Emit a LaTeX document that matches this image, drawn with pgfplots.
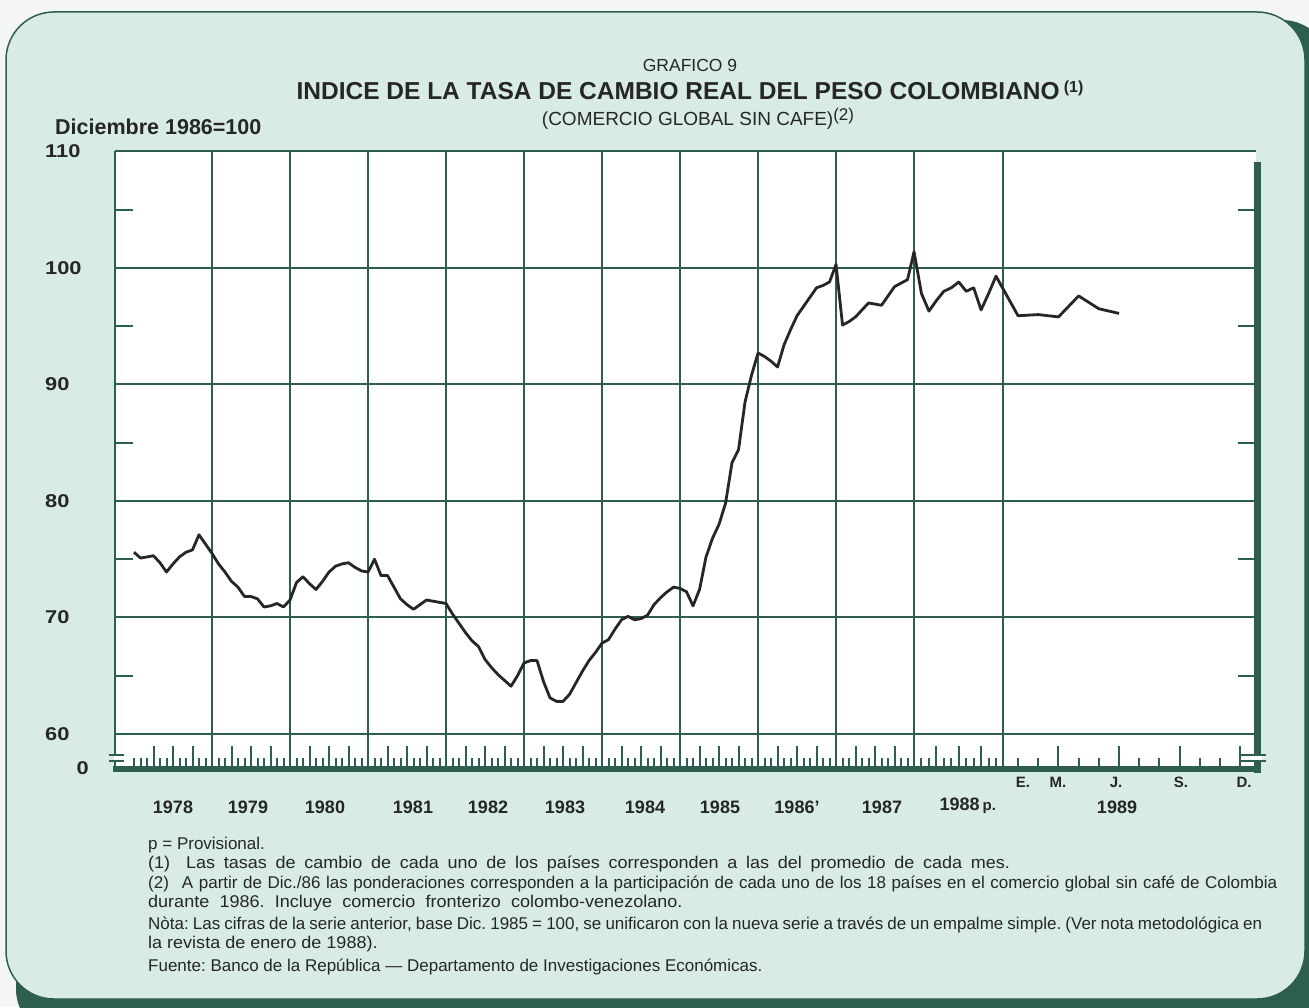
\documentclass[border=0pt]{standalone}
\usepackage{pgfplots}
\pgfplotsset{compat=1.18}
\usepackage{fontspec}
\setmainfont{Liberation Sans}
\newfontfamily\ylabfont{Liberation Sans}[FakeStretch=1.18]
\definecolor{mint}{RGB}{216,236,229}
\definecolor{dkg}{RGB}{46,94,80}
\definecolor{ink}{RGB}{38,38,38}
\definecolor{paper}{RGB}{243,246,245}
\pgfplotstableread{
m v
0 75.6
1 75.1
2 75.2
3 75.3
4 74.7
5 73.9
6 74.6
7 75.2
8 75.6
9 75.8
10 77.1
11 76.3
12 75.5
13 74.6
14 73.9
15 73.1
16 72.6
17 71.8
18 71.8
19 71.6
20 70.9
21 71.0
22 71.2
23 70.9
24 71.5
25 73.0
26 73.5
27 72.9
28 72.4
29 73.1
30 73.9
31 74.4
32 74.6
33 74.7
34 74.3
35 74.0
36 73.9
37 75.0
38 73.6
39 73.6
40 72.6
41 71.6
42 71.1
43 70.7
44 71.1
45 71.5
46 71.4
47 71.3
48 71.2
49 70.3
50 69.5
51 68.7
52 68.0
53 67.5
54 66.4
55 65.7
56 65.1
57 64.6
58 64.1
59 65.0
60 66.1
61 66.3
62 66.3
63 64.5
64 63.1
65 62.8
66 62.8
67 63.4
68 64.4
69 65.4
70 66.3
71 67.0
72 67.8
73 68.1
74 69.0
75 69.8
76 70.1
77 69.8
78 69.9
79 70.2
80 71.1
81 71.7
82 72.2
83 72.6
84 72.5
85 72.2
86 71.0
87 72.4
88 75.2
89 76.8
90 78.0
91 79.8
92 83.3
93 84.4
94 88.5
95 90.8
96 92.7
97 92.4
98 92.0
99 91.5
100 93.4
101 94.7
102 95.9
103 96.7
104 97.5
105 98.3
106 98.5
107 98.8
108 100.3
109 95.1
110 95.4
111 95.8
112 96.4
113 97.0
114 96.9
115 96.8
116 97.6
117 98.4
118 98.7
119 99.0
120 101.4
121 97.8
122 96.3
123 97.2
124 98.0
125 98.3
126 98.8
127 98.0
128 98.3
129 96.4
130 97.8
131 99.3
132 95.9
133 96.0
134 95.8
135 97.6
136 96.5
137 96.1
}\tasa
\begin{document}
\frenchspacing
\begin{tikzpicture}[x=1pt,y=1pt]
\path[use as bounding box] (0,0) rectangle (1309,1007);
\fill[paper] (0,0) rectangle (1309,1007);
\fill[dkg, rounded corners=48pt] (16,-30) rectangle (1330,987);
\filldraw[fill=mint, draw=dkg, line width=1.5pt, rounded corners=48pt] (6,8) rectangle (1305,995);
% titles
\node[ink, font=\fontsize{17.5}{20}\selectfont] at (690,942) {GRAFICO 9};
\node[ink, font=\bfseries\fontsize{24.5}{28}\selectfont] at (690,917) {INDICE DE LA TASA DE CAMBIO REAL DEL PESO COLOMBIANO\,\raisebox{0.55ex}{\fontsize{16}{18}\selectfont (1)}};
\node[ink, font=\fontsize{19}{22}\selectfont] at (698,888) {(COMERCIO GLOBAL SIN CAFE)\raisebox{0.55ex}{\fontsize{17}{19}\selectfont (2)}};
\node[ink, font=\bfseries\fontsize{21.5}{24}\selectfont, anchor=west, inner sep=0pt] at (55,880) {Diciembre 1986=100};
\begin{axis}[
  at={(115pt,239pt)}, anchor=south west,
  scale only axis, width=1141pt, height=616.5pt,
  xmin=-2.923, xmax=143.78, ymin=57.08, ymax=110,
  x coord trafo/.code={\pgfmathparse{(#1)<120 ? 134+6.5*(#1) : ((#1)<132 ? 914+7.45*((#1)-120) : 1018+20.2*((#1)-132))}},
  axis line style={draw=none},
  axis background/.style={fill=white},
  tick align=inside,
  xtick pos=bottom, ytick pos=both,
  xtick={3,6,...,129,134,137,140,143},
  xticklabels={},
  minor xtick={0,1,...,143},
  extra x ticks={12,24,...,120,131.9},
  extra x tick labels={},
  extra x tick style={grid=major, major tick length=0pt},
  ytick={60,70,...,110},
  yticklabels={60,70,80,90,100,110},
  ymajorgrids,
  extra y ticks={65,75,...,105},
  extra y tick labels={},
  extra y tick style={grid=none, major tick length=18pt},
  major tick length=22pt, minor tick length=10pt,
  tick style={dkg, line width=2pt},
  grid style={dkg, line width=2pt},
  yticklabel style={anchor=west, xshift=-70pt, inner sep=0pt, font=\ylabfont\bfseries\fontsize{18.5}{21}\selectfont, text=ink},
  clip=false,
]
\addplot[ink, line width=2.8pt, line join=round] table[x=m, y=v] {\tasa};
\end{axis}
% frame lines
\draw[dkg, line width=2pt] (115,855.5) -- (115,239);
\draw[dkg, line width=2pt] (115,855.5) -- (1250,855.5);
\draw[dkg, line width=7pt] (1257,845) -- (1257,234);
\draw[dkg, line width=6pt] (113,237.5) -- (1260,237.5);
% axis breaks
\fill[white] (113.5,246) rectangle (116.5,252);
\draw[dkg, line width=1.8pt] (109,246) -- (124,246) (109,252) -- (124,252);
\fill[white] (1252,246) rectangle (1262,252);
\draw[dkg, line width=1.8pt] (1240,246) -- (1266,246) (1240,252) -- (1266,252);
% zero label
\node[ink, font=\ylabfont\bfseries\fontsize{18.5}{21}\selectfont, anchor=east, inner sep=0pt] at (89,239) {0};
% year labels
\begin{scope}[every node/.style={ink, font=\bfseries\fontsize{18}{21}\selectfont}]
\node at (173,200) {1978};
\node at (248,200) {1979};
\node at (325,200) {1980};
\node at (413,200) {1981};
\node at (488,200) {1982};
\node at (565,200) {1983};
\node at (645,200) {1984};
\node at (720,200) {1985};
\node at (797,200) {1986’};
\node at (882,200) {1987};
\node[anchor=west] at (936,201) {1988\,{\fontsize{15}{17}\selectfont p.}};
\node at (1117,200) {1989};
\end{scope}
\begin{scope}[every node/.style={ink, font=\bfseries\fontsize{15}{17}\selectfont}]
\node at (1023,225) {E.};
\node at (1058,225) {M.};
\node at (1116,225) {J.};
\node at (1181,225) {S.};
\node at (1244,225) {D.};
\end{scope}
% footnotes
\begin{scope}[every node/.style={ink, anchor=west, inner sep=0pt, font=\fontsize{17}{20}\selectfont}]
\node at (148,162) {p = Provisional.};
\node at (148,143) {\scalebox{1.06}[1]{\makebox[813pt][s]{(1)\hspace{15pt}Las tasas de cambio de cada uno de los países corresponden a las del promedio de cada mes.}}};
\node at (148,123) {\makebox[1129pt][s]{(2)\hspace{13pt}A partir de Dic./86 las ponderaciones corresponden a la participación de cada uno de los 18 países en el comercio global sin café de Colombia}};
\node at (148,104) {\scalebox{1.06}[1]{\makebox[504pt][s]{durante 1986. Incluye comercio fronterizo colombo-venezolano.}}};
\node at (148,82) {\makebox[1114pt][s]{Nòta: Las cifras de la serie anterior, base Dic. 1985 = 100, se unificaron con la nueva serie a través de un empalme simple. (Ver nota metodológica en}};
\node at (148,63) {\scalebox{1.06}[1]{la revista de enero de 1988).}};
\node at (148,40) {Fuente: Banco de la República — Departamento de Investigaciones Económicas.};
\end{scope}
\end{tikzpicture}
\end{document}
